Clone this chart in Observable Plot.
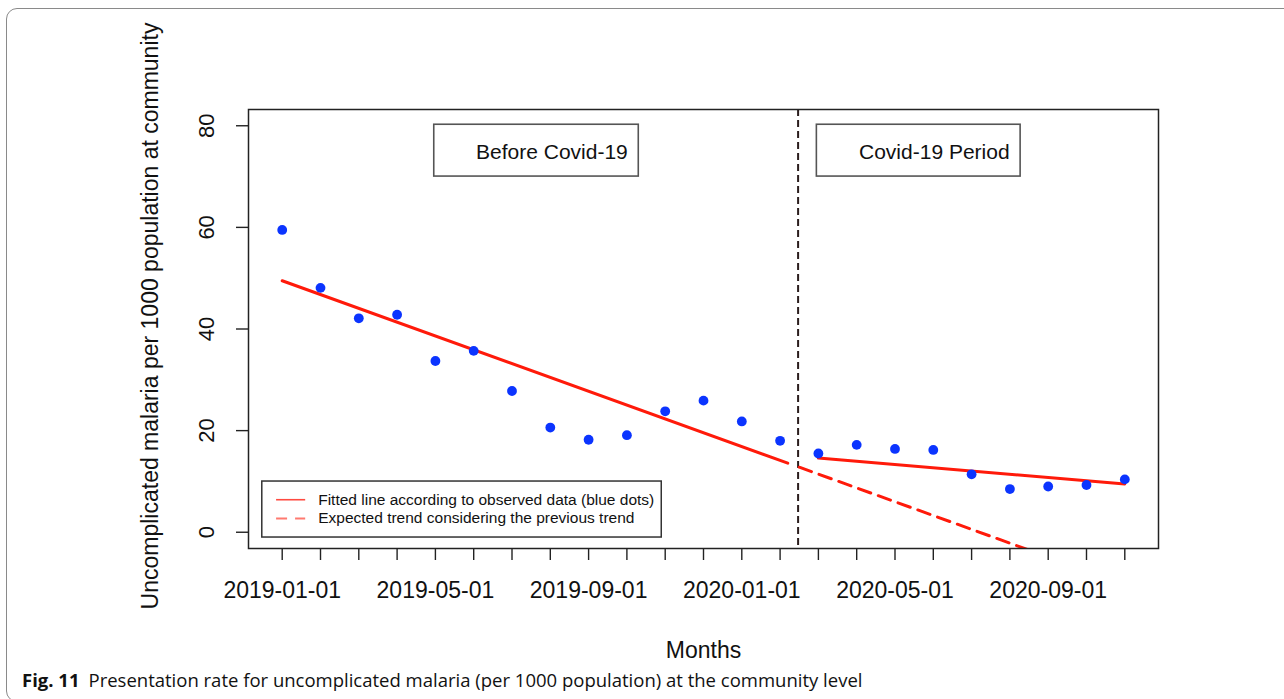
<!DOCTYPE html>
<html>
<head>
<meta charset="utf-8">
<script src="https://cdn.jsdelivr.net/npm/d3@7"></script>
<script src="https://cdn.jsdelivr.net/npm/@observablehq/plot@0.6"></script>
<style>
  html, body { margin: 0; padding: 0; background: #fff; }
  #wrap { position: relative; width: 1284px; height: 699px; overflow: hidden; background: #fff; }
  #border { position: absolute; left: 6px; top: 8px; width: 1320px; height: 694px; border: 1.3px solid #8a8a8a; border-radius: 11px; box-sizing: border-box; }
  #chart { position: absolute; left: 0; top: 0; }
  #caption { position: absolute; left: 22px; top: 667px; font-family: "Open Sans", "Noto Sans", sans-serif; font-size: 18.5px; color: #111; white-space: nowrap; }
  #caption b { font-weight: 700; margin-right: 9px; }
</style>
</head>
<body>
<div id="wrap">
  <div id="border"></div>
  <div id="chart"></div>
  <div id="caption"><b>Fig. 11</b>Presentation rate for uncomplicated malaria (per 1000 population) at the community level</div>
</div>
<script>
// ---- data ----
const months = ["2019-01","2019-02","2019-03","2019-04","2019-05","2019-06","2019-07","2019-08","2019-09","2019-10","2019-11","2019-12",
                "2020-01","2020-02","2020-03","2020-04","2020-05","2020-06","2020-07","2020-08","2020-09","2020-10","2020-11"];
const rates = [59.5, 48.1, 42.1, 42.8, 33.7, 35.7, 27.8, 20.6, 18.2, 19.1, 23.8, 25.9, 21.8, 18.0,
               15.5, 17.2, 16.4, 16.2, 11.4, 8.5, 9.0, 9.3, 10.4];
const xTickLabels = ["2019-01-01","2019-05-01","2019-09-01","2020-01-01","2020-05-01","2020-09-01"];
const xTickLabelIdx = [0, 4, 8, 12, 16, 20];
const yTicks = [0, 20, 40, 60, 80];
// fitted segments (month index, rate)
const preFitX = [0, 13.2],  preFitY = [49.5, 13.6];
const expectedX = [13.5, 22], expectedY = [12.8, -10.3];
const postFitX = [14, 22],  postFitY = [14.6, 9.5];
const interruption = 13.47;
const periodLabels = ["Before Covid-19", "Covid-19 Period"];
const legendLabels = ["Fitted line according to observed data (blue dots)", "Expected trend considering the previous trend"];

// ---- derived tables ----
const points = rates.map((v, i) => ({i, v, m: months[i]}));
const pre = preFitX.map((x, k) => ({x, y: preFitY[k]}));
const expected = expectedX.map((x, k) => ({x, y: expectedY[k]}));
const post = postFitX.map((x, k) => ({x, y: postFitY[k]}));
const boxes = [
  {label: periodLabels[0], x1: 3.97, x2: 9.31, y1: 70.0, y2: 80.2},
  {label: periodLabels[1], x1: 13.96, x2: 19.28, y1: 70.0, y2: 80.2}
];
const legendBox = {x1: -0.52, x2: 9.91, y1: -1.04, y2: 9.98};
const legendItems = [
  {label: legendLabels[0], y: 6.4},
  {label: legendLabels[1], y: 2.7}
];

const red = "#ff1a0a";
const chart = Plot.plot({
  width: 1284,
  height: 665,
  marginLeft: 248,
  marginRight: 126,
  marginTop: 109,
  marginBottom: 117,
  x: {domain: [-0.88, 22.88], axis: null},
  y: {domain: [-3.2, 83.2], axis: null},
  style: {fontFamily: "'Liberation Sans', Arial, sans-serif", background: "transparent", color: "#111"},
  marks: [
    // axes ticks
    Plot.axisX({ticks: d3.range(months.length), tickSize: 12, tickFormat: () => "", stroke: "#222", strokeWidth: 1.4}),
    Plot.axisY({ticks: yTicks, tickSize: 12, tickFormat: () => "", stroke: "#222", strokeWidth: 1.4}),
    Plot.text(xTickLabelIdx, {x: d => d, text: (d, k) => xTickLabels[k], frameAnchor: "bottom", dy: 42, lineAnchor: "middle", fontSize: 23, fill: "#111"}),
    Plot.text(yTicks, {y: d => d, text: d => String(d), frameAnchor: "left", dx: -42, rotate: -90, lineAnchor: "middle", textAnchor: "middle", fontSize: 22, fill: "#111"}),
    Plot.text(["Uncomplicated malaria per 1000 population at community"], {frameAnchor: "left", dx: -98, dy: -13, rotate: -90, lineAnchor: "middle", textAnchor: "middle", fontSize: 23, fill: "#111"}),
    Plot.text(["Months"], {frameAnchor: "bottom", dy: 102, lineAnchor: "middle", fontSize: 23, fill: "#111"}),
    // period boxes
    Plot.rect(boxes, {x1: "x1", x2: "x2", y1: "y1", y2: "y2", fill: "white", stroke: "#555", strokeWidth: 1.6}),
    Plot.text(boxes, {x: "x2", y: d => (d.y1 + d.y2) / 2, text: "label", textAnchor: "end", dx: -11, dy: 2, lineAnchor: "middle", fontSize: 21, fill: "#111"}),
    // interruption line
    Plot.ruleX([interruption], {stroke: "#2b1d1d", strokeWidth: 2, strokeDasharray: "7,4"}),
    // fitted lines
    Plot.line(pre, {x: "x", y: "y", stroke: red, strokeWidth: 3}),
    Plot.line(expected, {x: "x", y: "y", stroke: red, strokeWidth: 3, strokeDasharray: "13,8", clip: true}),
    Plot.line(post, {x: "x", y: "y", stroke: red, strokeWidth: 3}),
    // points
    Plot.dot(points, {x: "i", y: "v", r: 4.9, fill: "#0b34ff", stroke: "none"}),
    // legend
    Plot.rect([legendBox], {x1: "x1", x2: "x2", y1: "y1", y2: "y2", fill: "white", stroke: "#333", strokeWidth: 1.5}),
    Plot.link([legendItems[0]], {x1: -0.16, x2: 0.6, y1: "y", y2: "y", stroke: "#ff4a40", strokeWidth: 1.6}),
    Plot.link([legendItems[1]], {x1: -0.16, x2: 0.6, y1: "y", y2: "y", stroke: "#ff7a70", strokeWidth: 1.8, strokeDasharray: "11,8"}),
    Plot.text(legendItems, {x: 0.94, y: "y", text: "label", textAnchor: "start", lineAnchor: "middle", fontSize: 15.5, fill: "#111"}),
    Plot.frame({stroke: "#222", strokeWidth: 1.5})
  ]
});
document.getElementById("chart").appendChild(chart);
</script>
</body>
</html>
